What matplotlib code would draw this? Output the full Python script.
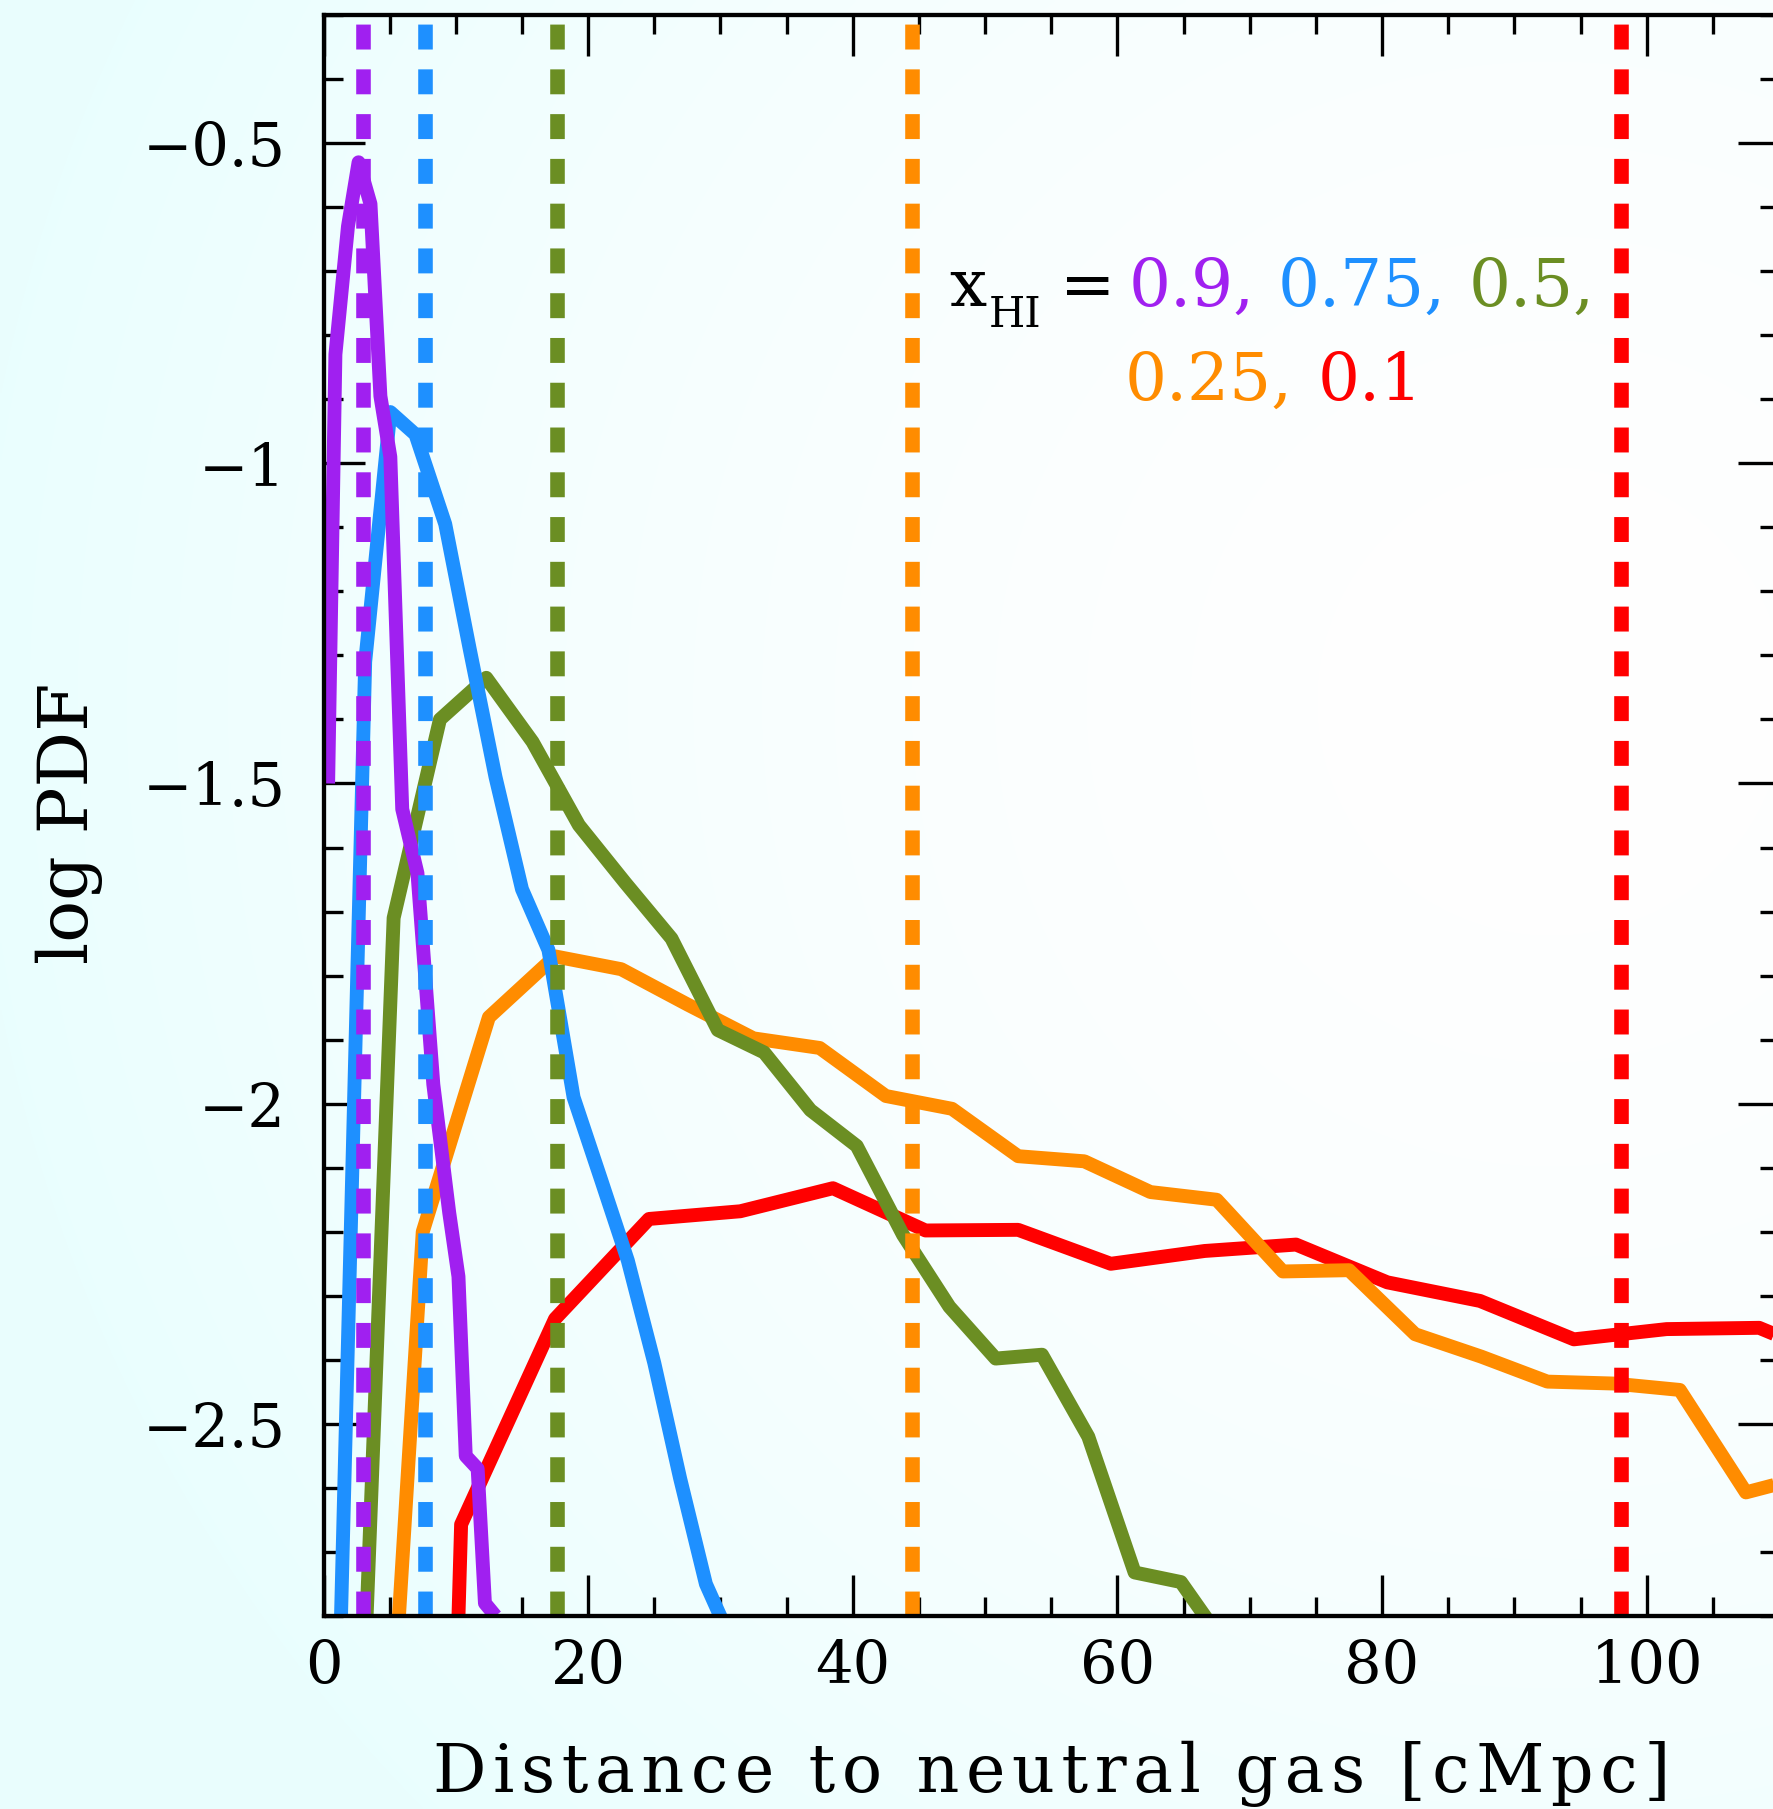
import numpy as np
import matplotlib
matplotlib.use("Agg")
import matplotlib.pyplot as plt
from matplotlib.ticker import MultipleLocator, FuncFormatter

# log PDF of the distance to neutral gas, one curve per neutral fraction
xhi_labels = ["0.9", "0.75", "0.5", "0.25", "0.1"]
colors = ["#A020F0", "#1E90FF", "#6B8E23", "#FF8C00", "#FF0000"]

dist_09 = [0.35, 0.9, 1.85, 2.65, 3.55, 4.3, 5.05, 5.95, 7.1, 8.3, 9.5, 10.2, 10.75, 11.65, 12.2, 13.0]
logpdf_09 = [-1.50, -0.83, -0.63, -0.53, -0.595, -0.895, -0.99, -1.54, -1.64, -1.97, -2.17, -2.27, -2.55, -2.57, -2.78, -2.80]

dist_075 = [1.14, 3.15, 5.05, 6.95, 9.2, 11.05, 13.0, 15.0, 17.0, 18.9, 21.0, 23.0, 25.0, 26.95, 28.9, 30.85]
logpdf_075 = [-2.95, -1.31, -0.92, -0.955, -1.095, -1.29, -1.49, -1.665, -1.76, -1.99, -2.12, -2.245, -2.405, -2.585, -2.75, -2.84]

dist_05 = [1.8, 5.3, 8.8, 12.3, 15.8, 19.3, 22.8, 26.3, 29.8, 33.3, 36.8, 40.3, 43.8, 47.3,
           50.8, 54.3, 57.8, 61.3, 64.8, 68.3]
logpdf_05 = [-3.58, -1.71, -1.40, -1.335, -1.435, -1.565, -1.655, -1.742, -1.885, -1.92, -2.01, -2.066, -2.205, -2.317,
             -2.398, -2.392, -2.52, -2.732, -2.747, -2.85]

dist_025 = [2.5, 7.5, 12.5, 17.5, 22.5, 27.5, 32.5, 37.5, 42.5, 47.5, 52.5, 57.5, 62.5, 67.5,
            72.5, 77.5, 82.5, 87.5, 92.5, 97.5, 102.5, 107.5, 112.5]
logpdf_025 = [-3.87, -2.20, -1.865, -1.77, -1.79, -1.845, -1.898, -1.913, -1.988, -2.008, -2.082, -2.09, -2.138, -2.15,
              -2.262, -2.26, -2.36, -2.395, -2.434, -2.437, -2.447, -2.607, -2.58]

dist_01 = [3.4, 10.4, 17.5, 24.6, 31.5, 38.5, 45.5, 52.5, 59.5, 66.6, 73.5, 80.4, 87.4, 94.5, 101.5, 108.5, 115.5]
logpdf_01 = [-7.7, -2.657, -2.336, -2.18, -2.168, -2.132, -2.198, -2.197, -2.25, -2.23, -2.22, -2.279, -2.308,
             -2.368, -2.352, -2.35, -2.41]

# mean distance for each neutral fraction (dashed lines)
mean_dist = [2.95, 7.67, 17.62, 44.44, 98.03]

W, H, DPI = 1773, 1809, 100
plt.rcParams['font.family'] = ['DejaVu Serif']

fig = plt.figure(figsize=(W / DPI, H / DPI), dpi=DPI)

# pale cyan wash fading to white towards the right
bg = fig.add_axes([0, 0, 1, 1], zorder=-10)
yy, xx = np.mgrid[0:H:3, 0:W:3]
t = np.clip(np.hypot(xx - 1550, yy - 700) / 1600, 0, 1) ** 1.6
img = np.ones(xx.shape + (3,))
img[..., 0] = 1 - 0.085 * t
img[..., 1] = 1 - 0.004 * t
img[..., 2] = 1 - 0.004 * t
bg.imshow(img, extent=[0, 1, 0, 1], aspect='auto', interpolation='bilinear')
bg.axis('off')

ax = fig.add_axes([323.5 / W, (H - 1616) / H, 1455.5 / W, 1601 / H])
ax.set_facecolor('none')

curves = [(dist_09, logpdf_09), (dist_075, logpdf_075), (dist_05, logpdf_05),
          (dist_025, logpdf_025), (dist_01, logpdf_01)]
for (x, y), c in list(zip(curves, colors))[::-1]:
    ax.plot(x, y, color=c, lw=10, solid_joinstyle='round', solid_capstyle='butt')

for xm, c in zip(mean_dist, colors):
    ax.axvline(xm, color=c, lw=10.5, dashes=(1.71, 1.36), dash_capstyle='butt')

ax.set_xlim(0, 110)
ax.set_ylim(-2.8, -0.3)
ax.xaxis.set_major_locator(MultipleLocator(20))
ax.xaxis.set_minor_locator(MultipleLocator(5))
ax.yaxis.set_major_locator(MultipleLocator(0.5))
ax.yaxis.set_minor_locator(MultipleLocator(0.1))
ax.yaxis.set_major_formatter(FuncFormatter(lambda v, p: ('%g' % v).replace('-', '\u2212')))

ax.tick_params(which='both', direction='in', top=True, right=True, width=2.4, color='black')
ax.tick_params(which='major', length=29.5)
ax.tick_params(which='minor', length=14)
ax.tick_params(axis='x', which='major', pad=16, labelsize=42.5)
ax.tick_params(axis='y', which='major', pad=27, labelsize=42.5)
for s in ax.spines.values():
    s.set_linewidth(3.1)

# the original label is set with loose letter spacing: hair spaces between letters
xlabel = 'Distance to neutral gas [cMpc]'
ax.set_xlabel('\u200a'.join(xlabel), fontsize=48)
ax.xaxis.set_label_coords(0.5, -0.1099)
ax.xaxis.label.set_va('baseline')
ax.set_ylabel('log PDF', fontsize=50)
ax.yaxis.set_label_coords(-0.1515, 0.4953)


def ptext(px, py, s, **kw):
    fig.text(px / W, 1 - py / H, s, ha='left', va='baseline', **kw)


ptext(949, 306, 'x', fontsize=47.5)
ptext(989, 327, 'HI', fontsize=30)
ptext(1060, 306, '=', fontsize=47.5)
label_pos = [(1129, 306), (1278, 306), (1469, 306), (1125, 400), (1318, 400)]
for (px, py), s, c in zip(label_pos, xhi_labels, colors):
    ptext(px, py, s + (',' if s != '0.1' else ''), fontsize=47.5, color=c)

fig.savefig('out.png', dpi=DPI)
